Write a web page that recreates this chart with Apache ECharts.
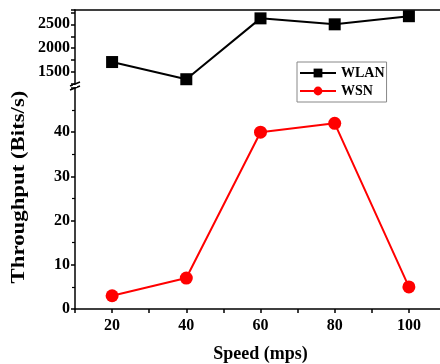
<!DOCTYPE html>
<html>
<head>
<meta charset="utf-8">
<script src="https://cdn.jsdelivr.net/npm/echarts@6/dist/echarts.min.js"></script>
<style>
  html, body { margin: 0; padding: 0; background: #fff; }
  #main { width: 440px; height: 364px; }
</style>
</head>
<body>
<div id="main"></div>
<script>
const speeds = [20, 40, 60, 80, 100]
const wlan = [1710, 1350, 2625, 2500, 2670]
const wsn = [3, 7, 40, 42, 5]
const topTicks = ['1500', '2000', '2500']

const font = 'Liberation Serif'
const chart = echarts.init(document.getElementById('main'))

const xCommon = {
  type: 'value',
  min: 10,
  max: 110,
  interval: 10,
}

const labelStyle = { fontFamily: font, fontWeight: 'bold', fontSize: 16, color: '#000' }

const option = {
  animation: false,
  grid: [
    { left: 75, top: 10, width: 371, height: 74, outerBoundsMode: 'none', containLabel: false },
    { left: 75, top: 88, width: 371, height: 221, outerBoundsMode: 'none', containLabel: false },
  ],
  legend: {
    left: 297,
    top: 62,
    orient: 'vertical',
    itemWidth: 36,
    itemHeight: 11,
    itemGap: 4,
    padding: [4, 2, 4, 2],
    borderColor: '#888',
    borderWidth: 1,
    textStyle: { fontFamily: font, fontWeight: 'bold', fontSize: 14, color: '#000' },
    data: ['WLAN', 'WSN'],
  },
  xAxis: [
    {
      ...xCommon,
      gridIndex: 0,
      position: 'top',
      axisLine: { lineStyle: { color: '#000', width: 1.5 } },
      axisTick: { show: false },
      axisLabel: { show: false },
      splitLine: { show: false },
    },
    {
      ...xCommon,
      gridIndex: 1,
      name: 'Speed (mps)',
      nameLocation: 'middle',
      nameGap: 36,
      nameTextStyle: { ...labelStyle, fontSize: 18 },
      axisLine: { lineStyle: { color: '#000', width: 1.5 } },
      axisTick: { length: 4, lineStyle: { width: 1.5 } },
      axisLabel: {
        ...labelStyle, margin: 9,
        formatter: (v) => (v % 20 === 0 && v <= 100 ? v : ''),
      },
      splitLine: { show: false },
    },
  ],
  yAxis: [
    {
      type: 'value',
      gridIndex: 0,
      min: 1250,
      max: 2800,
      interval: 250,
      axisLine: { lineStyle: { color: '#000', width: 1.5 } },
      axisTick: { length: 4, lineStyle: { width: 1.5 } },
      axisLabel: {
        ...labelStyle, margin: 5,
        formatter: (v) => (topTicks.includes(String(v)) ? String(v) : ''),
      },
      splitLine: { show: false },
    },
    {
      type: 'value',
      gridIndex: 1,
      min: 0,
      max: 50,
      interval: 10,
      axisLine: { lineStyle: { color: '#000', width: 1.5 } },
      axisTick: { length: 4, lineStyle: { width: 1.5 } },
      minorTick: { show: true, splitNumber: 2, length: 3, lineStyle: { color: '#000', width: 1.2 } },
      axisLabel: {
        ...labelStyle, margin: 5,
        formatter: (v) => (v === 50 ? '' : v),
      },
      splitLine: { show: false },
    },
  ],
  graphic: [
    // y 轴标题横跨上下两段，单独画
    {
      type: 'text',
      x: 19,
      y: 187,
      rotation: Math.PI / 2,
      scaleX: 1.2,
      style: {
        text: 'Throughput (Bits/s)',
        fontFamily: font,
        fontWeight: 'bold',
        fontSize: 19,
        fill: '#000',
        align: 'center',
        verticalAlign: 'middle',
      },
    },
    // 断轴标记
    { type: 'line', shape: { x1: 70, y1: 86, x2: 80, y2: 82 }, style: { stroke: '#000', lineWidth: 1.5 } },
    { type: 'line', shape: { x1: 70, y1: 90, x2: 80, y2: 86 }, style: { stroke: '#000', lineWidth: 1.5 } },
    { type: 'rect', shape: { x: 73, y: 85, width: 4, height: 2 }, style: { fill: '#fff' } },
  ],
  series: [
    {
      name: 'WLAN',
      type: 'line',
      xAxisIndex: 0,
      yAxisIndex: 0,
      data: speeds.map((s, i) => [s, wlan[i]]),
      symbol: 'rect',
      symbolSize: 12,
      itemStyle: { color: '#000' },
      lineStyle: { color: '#000', width: 2 },
    },
    {
      name: 'WSN',
      type: 'line',
      xAxisIndex: 1,
      yAxisIndex: 1,
      data: speeds.map((s, i) => [s, wsn[i]]),
      symbol: 'circle',
      symbolSize: 13,
      itemStyle: { color: '#f00' },
      lineStyle: { color: '#f00', width: 2 },
    },
  ],
}

chart.setOption(option)
</script>
</body>
</html>
